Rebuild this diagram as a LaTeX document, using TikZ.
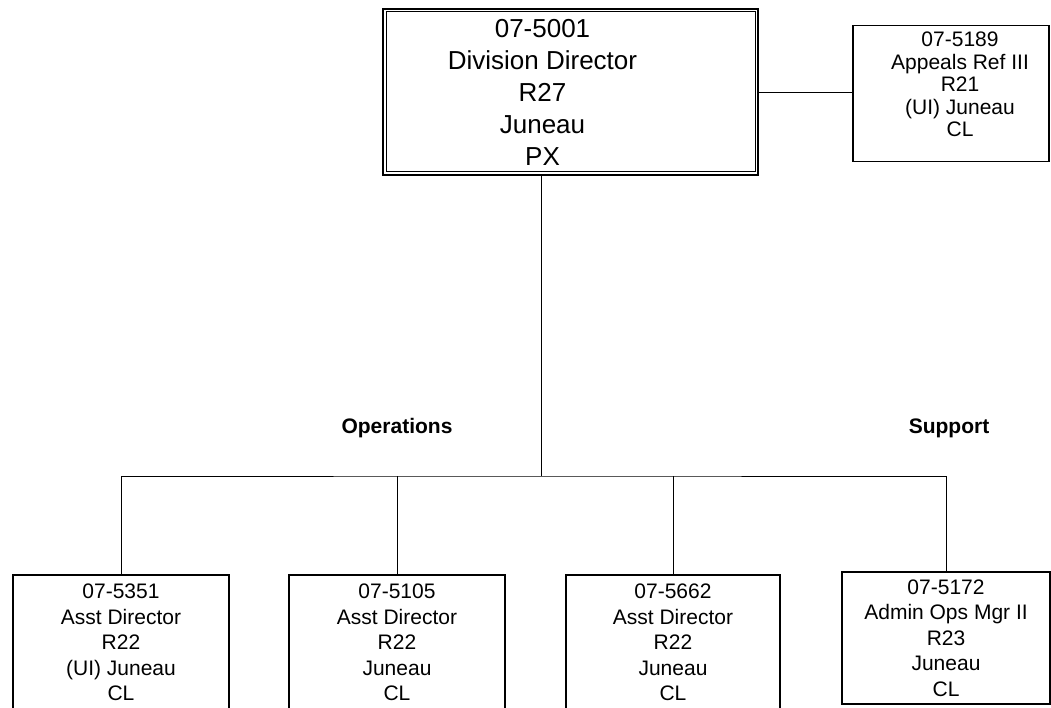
\documentclass[tikz,border=0pt]{standalone}
\usepackage{fontspec}
\setmainfont{Liberation Sans}
\usetikzlibrary{positioning}

\tikzset{
	posbox/.style={draw, line width=1.2pt, inner sep=0pt, align=center},
	topbox/.style={posbox, line width=2pt, minimum width=375pt, minimum height=166pt},
	toptext/.style={inner sep=0pt, align=center, font=\fontsize{26}{32}\selectfont},
	sidebox/.style={posbox, minimum width=196pt, minimum height=136pt},
	sidetext/.style={inner sep=0pt, align=center, font=\fontsize{21}{22.5}\selectfont},
	lowbox/.style={posbox, minimum width=216pt, minimum height=135pt, font=\fontsize{21}{25.5}\selectfont},
	grouplabel/.style={font=\fontsize{21}{25}\selectfont\bfseries},
	wire/.style={line width=0.8pt}
}

\begin{document}
\begin{tikzpicture}[x=1pt,y=-1pt]
	\useasboundingbox (0,0) rectangle (1051,708);
	
	% director and side post
	\node[topbox] (dir) at (570.5,92) {};
	\draw[line width=1pt] ([shift={(4,4)}]dir.north west) rectangle ([shift={(-4,-4)}]dir.south east);
	\node[toptext] (dirtext) at ([xshift=-28]dir.center) {07-5001\\Division Director\\R27\\Juneau\\PX};
	\node[sidebox] (appeal) at (951,93.5) {};
	\node[sidetext] (appealtext) at ([shift={(9,-9)}]appeal.center) {07-5189\\Appeals Ref III\\R21\\(UI) Juneau\\CL};
	
	% lower row
	\node[lowbox] (ops1) at (121,642.5) {07-5351\\Asst Director\\R22\\(UI) Juneau\\CL};
	\node[lowbox] (ops2) at (397,642.5) {07-5105\\Asst Director\\R22\\Juneau\\CL};
	\node[lowbox, minimum width=214pt] (ops3) at (673,642.5) {07-5662\\Asst Director\\R22\\Juneau\\CL};
	\node[lowbox, minimum width=208pt, minimum height=132pt] (adm) at (946,638) {07-5172\\Admin Ops Mgr II\\R23\\Juneau\\CL};
	
	\node[grouplabel] (opslabel) at (397,428) {Operations};
	\node[grouplabel] (suplabel) at (949,428) {Support};
	
	% lines
	\coordinate (bus) at (541,476);
	\draw[wire] (dir.east) -- (dir.east -| appeal.west);
	\draw[wire] (dir.south -| bus) -- (bus);
	\draw[wire] (ops1.north) |- (bus) -| (adm.north);
	\draw[wire] (ops2.north) -- (ops2.north |- bus);
	\draw[wire] (ops3.north) -- (ops3.north |- bus);
	
\end{tikzpicture}
\end{document}
